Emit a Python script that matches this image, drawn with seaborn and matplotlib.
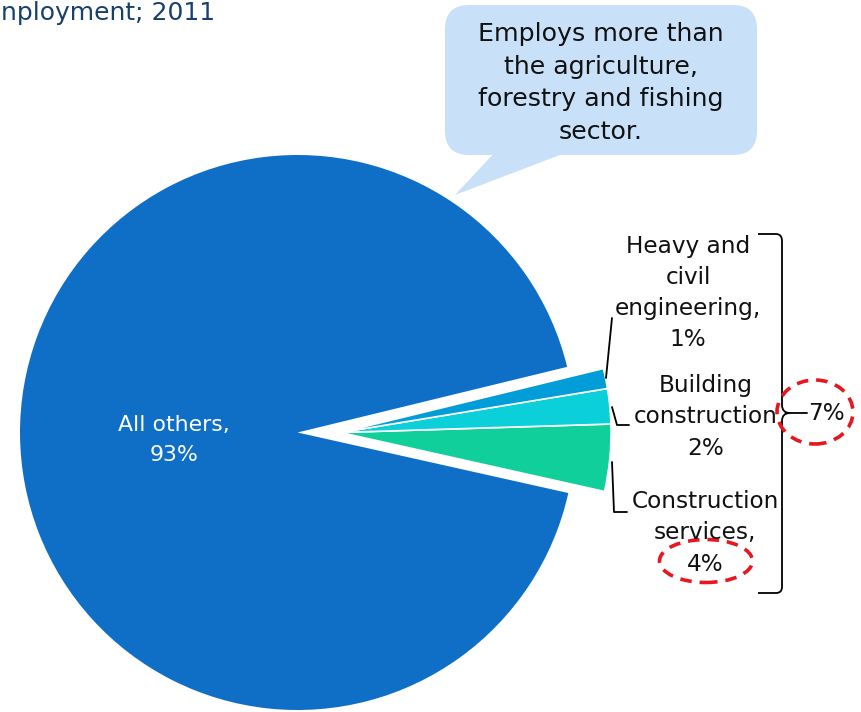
import matplotlib
matplotlib.use("Agg")
import matplotlib.pyplot as plt
import seaborn as sns
from matplotlib.patches import FancyBboxPatch, Polygon, Ellipse, PathPatch
from matplotlib.path import Path

# ---- data ----
categories = ["Construction services", "Building construction",
              "Heavy and civil engineering", "All others"]
values = [4.0, 2.1, 1.2, 92.7]
label_texts = ["Construction\nservices,", "Building\nconstruction",
               "Heavy and\ncivil\nengineering,", "All others,"]
title_text = "nployment; 2011"
callout_text = "Employs more than\nthe agriculture,\nforestry and fishing\nsector."

sns.set_theme(style="white")
plt.rcParams['font.family'] = ['DejaVu Sans']

W, H = 862, 712
fig = plt.figure(figsize=(W / 100, H / 100), dpi=100)
ax = fig.add_axes([0, 0, 1, 1])

def P(x, y):
    return (x, H - y)

colors = sns.color_palette(["#10CF9B", "#0BD0D9", "#009DD9", "#0F6FC6"])

cx, cy = P(297.5, 432.5)
R = 277.5
wedges, _ = ax.pie(values, colors=colors, startangle=-12.6, counterclock=True,
                   center=(cx, cy), radius=R)
# move construction slices out as one group
for w in wedges[:3]:
    w.set_center((cx + 43, cy))
    w.set_radius(R * 0.975)
    w.set_edgecolor("white")
    w.set_linewidth(1.2)
wedges[3].set_linewidth(0)

ax.set_xlim(0, W)
ax.set_ylim(0, H)
ax.set_aspect('equal')
ax.axis('off')

fs = 16.7
ls = 1.45
# labels
pct = [f"{v:.0f}%" for v in values]
ax.text(*P(174, 440), f"{label_texts[3]}\n{pct[3]}", color="white", fontsize=15.8,
        ha="center", va="center", linespacing=1.66)
ax.text(*P(688, 293), f"{label_texts[2]}\n{pct[2]}", color="#111111", fontsize=fs,
        ha="center", va="center", linespacing=ls)
ax.text(*P(706, 417), f"{label_texts[1]}\n{pct[1]}", color="#111111", fontsize=fs,
        ha="center", va="center", linespacing=ls)
ax.text(*P(705, 533), f"{label_texts[0]}\n{pct[0]}", color="#111111", fontsize=fs,
        ha="center", va="center", linespacing=ls)

# leader lines
lk = dict(color="black", lw=1.3)
ax.plot(*zip(P(606, 378), P(612, 318)), **lk)
ax.plot(*zip(P(612, 407), P(617, 425), P(629, 425)), **lk)
ax.plot(*zip(P(612, 462), P(614, 512), P(627, 512)), **lk)

# bracket
verts = [P(758, 234), P(776, 234), P(782, 234), P(782, 241),
         P(782, 405), P(782, 413), P(790, 413),
         P(782, 413), P(782, 421),
         P(782, 587), P(782, 593), P(776, 593), P(758, 593)]
codes = [Path.MOVETO, Path.LINETO, Path.CURVE3, Path.CURVE3,
         Path.LINETO, Path.CURVE3, Path.CURVE3,
         Path.CURVE3, Path.CURVE3,
         Path.LINETO, Path.CURVE3, Path.CURVE3, Path.LINETO]
ax.add_patch(PathPatch(Path(verts, codes), fill=False, edgecolor="black", lw=1.3))
ax.plot(*zip(P(790, 413), P(807, 413)), **lk)
ax.text(*P(826, 414), f"{sum(values[:3]):.0f}%", color="#111111", fontsize=fs,
        ha="center", va="center")

# red dashed ellipses
ek = dict(fill=False, edgecolor="#E8171F", lw=2.6, linestyle=(0, (3.2, 2.2)))
ax.add_patch(Ellipse(P(815, 412), 76, 64, **ek))
ax.add_patch(Ellipse(P(706, 561), 93, 43, **ek))

# callout bubble
bub = "#C8E1F9"
ax.add_patch(FancyBboxPatch(P(445, 155), 312, 150,
                            boxstyle="round,pad=0,rounding_size=24",
                            facecolor=bub, edgecolor="none", zorder=3))
ax.add_patch(Polygon([P(497, 150), P(573, 150), P(455, 195)], closed=True,
                     facecolor=bub, edgecolor="none", zorder=3))
ax.text(*P(601, 83), callout_text, color="#111111", fontsize=18.2,
        ha="center", va="center", linespacing=1.45, zorder=4)

# title (partially visible)
ax.text(*P(1, 13), title_text, color="#17406D", fontsize=18,
        ha="left", va="center")

fig.savefig("out.png", dpi=100)
